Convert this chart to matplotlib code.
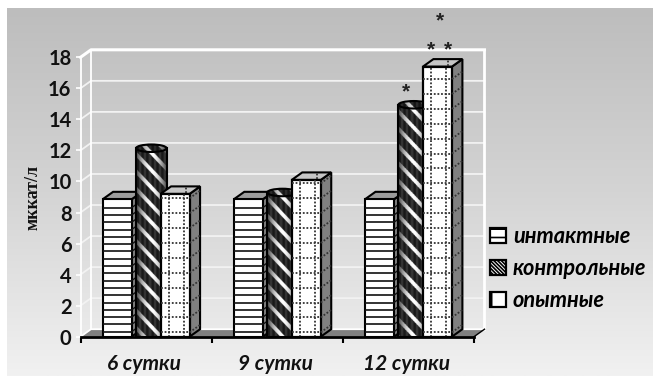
import numpy as np
import matplotlib
matplotlib.use('Agg')
import matplotlib.pyplot as plt
from matplotlib.patches import Polygon, Ellipse, Patch

categories = ['6 сутки', '9 сутки', '12 сутки']
series_names = ['интактные', 'контрольные', 'опытные']
intact = [8.85, 8.85, 8.85]
control = [11.9, 9.05, 14.7]
treated = [9.2, 10.1, 17.4]
y_ticks = [0, 2, 4, 6, 8, 10, 12, 14, 16, 18]

W, H = 653, 377
X0, X1, Y0, Y18 = 80.5, 474.0, 336.7, 57.3
DX = 10.5 / ((X1 - X0) / 3)      # depth of the 3d box, in data units
DY = 7.5 / ((Y0 - Y18) / 18)
BAR = 0.221

fig = plt.figure(figsize=(W / 100, H / 100), dpi=100, facecolor='white')

# grey panel behind the chart
bg = fig.add_axes([7 / W, 1 / H, 1 - 7 / W, 368 / H])
bg.imshow(np.linspace(0, 1, 256).reshape(-1, 1), cmap=matplotlib.colors.LinearSegmentedColormap.from_list(
    'panel', ['#bdbdbd', '#d4d4d4', '#f1f1f1']), aspect='auto')
bg.axis('off')

ax = fig.add_axes([X0 / W, 1 - Y0 / H, (X1 - X0) / W, (Y0 - Y18) / H])
ax.patch.set_alpha(0)
ax.set_xlim(0, 3)
ax.set_ylim(0, 18)
xs = np.arange(len(categories)) + 0.5

# floor and walls
ax.add_patch(Polygon([(0, 0), (3, 0), (3 + DX, DY), (DX, DY)], fc='#808080', ec='none', clip_on=False, zorder=1))
ax.plot([3, 3 + DX], [0, DY], color='black', lw=1, clip_on=False, zorder=1.5)
for t in y_ticks:
    lw = 2.2 if t == 18 else 1.3
    col = 'white' if t in (0, 18) else '#f2f2f2'
    ax.plot([0, DX, 3 + DX], [t, t + DY, t + DY], color=col, lw=lw, clip_on=False, zorder=1.2)
ax.plot([DX, DX], [DY, 18 + DY], color='white', lw=1.3, clip_on=False, zorder=1.2)
ax.plot([3 + DX, 3 + DX], [DY, 18 + DY], color='white', lw=2, clip_on=False, zorder=1.2)


def box_faces(x, v, top_col, z):
    left, right = x - BAR / 2, x + BAR / 2
    ax.add_patch(Polygon([(right, 0), (right + DX, DY), (right + DX, v + DY), (right, v)],
                         fc='#808080', ec='black', lw=1.5, clip_on=False, zorder=z, joinstyle='miter'))
    ax.add_patch(Polygon([(left, v), (left + DX, v + DY), (right + DX, v + DY), (right, v)],
                         fc=top_col, ec='black', lw=1.5, clip_on=False, zorder=z, joinstyle='miter'))


def draw_intact(x, v, z):
    box_faces(x, v, '#9c9c9c', z)
    ax.bar(x, v, BAR, color='white', edgecolor='black', lw=1.5, zorder=z + 0.1)
    for y in np.arange(0.32, v - 0.1, 0.47):
        ax.plot([x - BAR / 2, x + BAR / 2], [y, y], color='#111111', lw=1.2, solid_capstyle='butt', zorder=z + 0.2)
        ax.plot([x + BAR / 2, x + BAR / 2 + DX], [y, y + DY], color='#111111', lw=1, zorder=z + 0.2, clip_on=False)


def draw_control(x, v, z):
    cx = x + DX / 2
    w = BAR * 1.05
    e_h = DY * 1.0
    top = v + DY / 2
    # black body with diagonal light stripes, brightest in the middle
    nx, ny = 64, 600
    px = np.linspace(0, w * (X1 - X0) / 3, nx)
    py = np.linspace(0, (top + e_h) * (Y0 - Y18) / 18, ny)
    gx, gy = np.meshgrid(px, py)
    stripe = ((gx - gy * 0.95 + 200 * 16) % 16.5) < 5.2
    shade = np.sin(np.pi * gx / px[-1]) ** 1.1
    grooves = 0.10 + 0.10 * (np.floor(gx / 2.5) % 2)
    img = np.where(stripe, 0.3 + 0.7 * shade, grooves)
    body = ax.bar(cx, top, w, color='none', edgecolor='black', lw=1.5, zorder=z + 0.2)[0]
    body_im = ax.imshow(img, cmap='gray', vmin=0, vmax=1, aspect='auto', origin='upper',
                        extent=[cx - w / 2, cx + w / 2, 0, top + e_h], zorder=z, clip_on=True)
    body_im.set_clip_path(body)
    cap = Ellipse((cx, top), w, e_h, fc='none', ec='black', lw=1.5, clip_on=False, zorder=z + 0.3)
    ax.add_patch(cap)
    cap_im = ax.imshow(img * 0.85, cmap='gray', vmin=0, vmax=1, aspect='auto', origin='upper',
                       extent=[cx - w / 2, cx + w / 2, 0, top + e_h], zorder=z + 0.25, clip_on=True)
    cap_im.set_clip_path(cap)


def draw_treated(x, v, z):
    box_faces(x, v, '#c6c6c6', z)
    ax.bar(x, v, BAR, color='white', edgecolor='black', lw=1.6, zorder=z + 0.1)
    dots = dict(color='#333333', lw=1.3, ls=(0, (1, 1)), zorder=z + 0.2)
    for y in np.arange(0.28, v - 0.1, 0.96):
        ax.plot([x - BAR / 2, x + BAR / 2], [y, y], **dots)
        ax.plot([x + BAR / 2, x + BAR / 2 + DX], [y, y + DY], clip_on=False, **dots)
    for f in (0.28, 0.8):
        vx = x - BAR / 2 + f * BAR
        ax.plot([vx, vx], [0, v], **dots)
    ax.plot([x + BAR * 0.28 + DX / 2 - BAR * 0.1] * 2, [v + 0.05, v + DY - 0.05], clip_on=False, **dots)


for i, x in enumerate(xs):
    draw_intact(x - BAR, intact[i], 3 + i)
    draw_control(x, control[i], 3.4 + i)
    draw_treated(x + BAR, treated[i], 3.7 + i)

ax.set_xlim(0, 3)
ax.set_ylim(0, 18)

# significance marks
marks = [(2.48, 15.75), (2.67, 18.5), (2.80, 18.5), (2.74, 20.37)]
for mx, my in marks:
    ax.text(mx, my, '*', ha='center', va='center', fontsize=15, family='Liberation Sans',
            fontweight='bold', color='#222222', clip_on=False, zorder=9)

for s in ('top', 'right'):
    ax.spines[s].set_visible(False)
ax.spines['left'].set_color('white')
ax.spines['left'].set_linewidth(1.3)
ax.spines['bottom'].set_linewidth(2)
ax.spines['bottom'].set_zorder(8)
ax.set_yticks(y_ticks)
ax.set_yticklabels([str(t) for t in y_ticks], fontsize=14.5, fontweight='bold', family='Lato', color='#111111')
ax.tick_params(axis='y', length=3.5, width=1.2, color='white', pad=3)
ax.set_xticks([0, 1, 2, 3])
ax.set_xticklabels([])
ax.tick_params(axis='x', length=4, width=1.5, color='black')
for x, c in zip(xs, categories):
    ax.annotate(c, (x, 0), xytext=(-1.5, -19.5), textcoords='offset points', ha='center', va='center',
                fontsize=15, fontweight='bold', fontstyle='italic', family='Lato', color='#111111')

ax.set_ylabel('мккат/л', fontsize=13, fontweight='bold', family='Liberation Serif', color='#111111')
ax.yaxis.set_label_coords(42 / W, 1 - 197 / H, transform=fig.transFigure)

plt.rcParams['hatch.linewidth'] = 1.2
handles = [Patch(fc='white', ec='black', hatch='--', lw=1.6),
           Patch(fc='white', ec='black', hatch='\\\\\\\\\\\\\\\\\\', lw=1.6),
           Patch(fc='white', ec='black', hatch='+', lw=1.6)]
fig.legend(handles, series_names, loc='upper left', bbox_to_anchor=(490 / W, 1 - 226 / H),
           frameon=False, handlelength=0.75, handleheight=0.7, handletextpad=0.3, labelspacing=0.5,
           borderpad=0, borderaxespad=0,
           prop={'family': 'Lato', 'weight': 'bold', 'style': 'italic', 'size': 15.7})

fig.savefig('out.png', dpi=100)
